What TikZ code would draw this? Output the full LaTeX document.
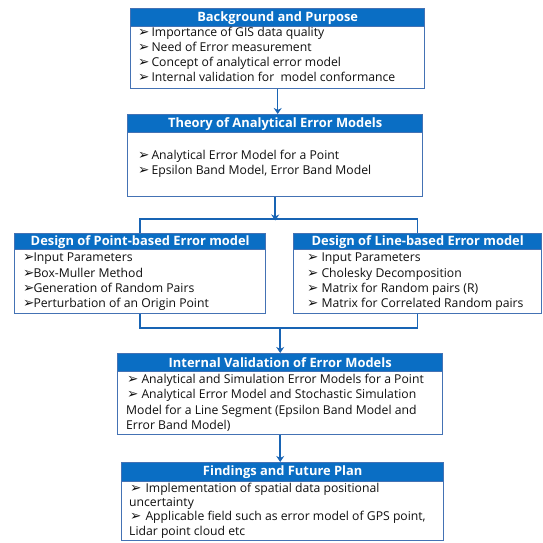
\documentclass[tikz,border=0pt]{standalone}
\usepackage{fontspec}
\setmainfont{Open Sans}
\newfontfamily\dejavu{DejaVu Sans}
\usetikzlibrary{arrows.meta}
\definecolor{bordc}{RGB}{68,114,180}
\definecolor{hdrc}{RGB}{10,110,196}
\definecolor{arrc}{RGB}{24,100,180}
\definecolor{txtc}{RGB}{15,15,15}
\newcommand{\bul}{{\dejavu\fontsize{13.5}{10}\selectfont ➢}}
\tikzset{
  box/.style={draw=bordc, line width=1.4pt, fill=white, anchor=north west, inner sep=0pt, rectangle},
  hdr/.style={draw=bordc, line width=1.4pt, fill=hdrc, anchor=north west, inner sep=0pt, rectangle,
              text=white, font=\bfseries\fontsize{12.9}{14}\selectfont},
  item/.style={anchor=west, inner sep=0pt, text=txtc, font=\fontsize{12.2}{13}\selectfont,
               text height=9pt, text depth=2.8pt},
  conn/.style={draw=arrc, line width=1.5pt},
  arr/.style={conn, -{Stealth[length=6pt,width=8pt]}}
}
\begin{document}
\begin{tikzpicture}[x=1pt,y=-1pt]
\useasboundingbox (0,0) rectangle (543,542);
% Box 1
\node[box, minimum width=294, minimum height=80] (b1) at (130,8) {};
\node[hdr, minimum width=294, minimum height=18] (h1) at (130,8) {Background and Purpose};
\node[item] (t1a) at (138,33) {\bul\hspace{2pt}Importance of GIS data quality};
\node[item] (t1b) at (138,48) {\bul\hspace{2pt}Need of Error measurement};
\node[item] (t1c) at (138,63) {\bul\hspace{2pt}Concept of analytical error model};
\node[item] (t1d) at (138,78) {\bul\hspace{2pt}Internal validation for\ \ model conformance};
% Box 2
\node[box, minimum width=295, minimum height=82] (b2) at (127,114) {};
\node[hdr, minimum width=295, minimum height=18] (h2) at (127,114) {Theory of Analytical Error Models};
\node[item] (t2a) at (138,156) {\bul\hspace{2pt}Analytical Error Model for a Point};
\node[item] (t2b) at (138,171) {\bul\hspace{2pt}Epsilon Band Model, Error Band Model};
% Box 3
\node[box, minimum width=251, minimum height=80] (b3) at (14,233) {};
\node[hdr, minimum width=251, minimum height=16] (h3) at (14,233) {Design of Point-based Error model};
\node[item] (t3a) at (23,258) {\bul\hspace{-1pt}Input Parameters};
\node[item] (t3b) at (23,274) {\bul\hspace{-1pt}Box-Muller Method};
\node[item] (t3c) at (23,289) {\bul\hspace{-1pt}Generation of Random Pairs};
\node[item] (t3d) at (23,304) {\bul\hspace{-1pt}Perturbation of an Origin Point};
% Box 4
\node[box, minimum width=248, minimum height=80] (b4) at (293,233) {};
\node[hdr, minimum width=248, minimum height=16] (h4) at (293,233) {Design of Line-based Error model};
\node[item] (t4a) at (307,258) {\bul\hspace{3pt}Input Parameters};
\node[item] (t4b) at (307,274) {\bul\hspace{3pt}Cholesky Decomposition};
\node[item] (t4c) at (307,289) {\bul\hspace{3pt}Matrix for Random pairs (R)};
\node[item] (t4d) at (307,304) {\bul\hspace{3pt}Matrix for Correlated Random pairs};
% Box 5
\node[box, minimum width=325, minimum height=81] (b5) at (117,353) {};
\node[hdr, minimum width=325, minimum height=18] (h5) at (117,353) {Internal Validation of Error Models};
\node[item] (t5a) at (127,380) {\bul\hspace{3pt}Analytical and Simulation Error Models for a Point};
\node[item] (t5b) at (127,395) {\bul\hspace{3pt}Analytical Error Model and Stochastic Simulation};
\node[item] (t5c) at (126,411) {Model for a Line Segment (Epsilon Band Model and};
\node[item] (t5d) at (126,426) {Error Band Model)};
% Box 6
\node[box, minimum width=322, minimum height=78] (b6) at (121,462) {};
\node[hdr, minimum width=322, minimum height=19] (h6) at (121,462) {Findings and Future Plan};
\node[item] (t6a) at (130,489) {\bul\hspace{4pt}Implementation of spatial data positional};
\node[item] (t6b) at (129,503) {uncertainty};
\node[item] (t6c) at (130,517) {\bul\hspace{4pt}Applicable field such as error model of GPS point,};
\node[item] (t6d) at (129,532) {Lidar point cloud etc};
% Junctions
\coordinate (jtop) at (b2.south |- 0,219);
\coordinate (jbot) at (b5.north |- 0,328);
% Connectors
\draw[arr] (b1.south) -- (b1.south |- b2.north);
\draw[arr] (b2.south) -- ([yshift=-1.5pt]jtop);
\draw[conn] (b3.north) -- (b3.north |- jtop) -- (b4.north |- jtop) -- (b4.north);
\draw[conn] (b3.south) -- (b3.south |- jbot) -- (b4.south |- jbot) -- (b4.south);
\draw[arr] (jbot) -- (b5.north);
\draw[arr] (b5.south) -- (b5.south |- b6.north);
\end{tikzpicture}
\end{document}
